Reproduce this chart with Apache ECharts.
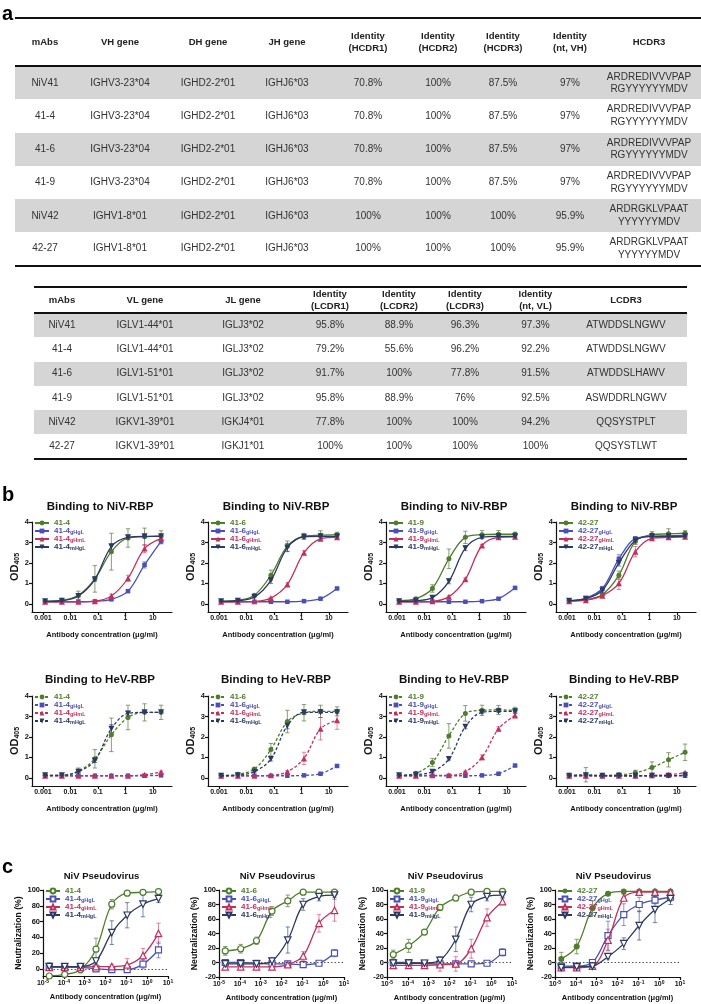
<!DOCTYPE html>
<html><head><meta charset="utf-8">
<script src="https://cdn.jsdelivr.net/npm/echarts@6/dist/echarts.min.js"></script>
<style>
html,body{margin:0;padding:0;background:#fff;}
#chart{position:absolute;left:0;top:0;width:701px;height:1004px;}
table{position:absolute;border-collapse:collapse;font-family:'Liberation Sans',Arial,sans-serif;font-size:10px;color:#333;table-layout:fixed;}
td,th{text-align:center;padding:0;line-height:1.25;white-space:pre-line;}
th{font-weight:bold;color:#222;font-size:9.5px;border-top:2.5px solid #111;border-bottom:2.5px solid #111;}
tr.g td{background:#d5d5d5;}
tr:last-child td{border-bottom:2.5px solid #111;}
#lab-a{position:absolute;left:2px;top:2px;font:bold 20px 'Liberation Sans',Arial,sans-serif;}
</style></head>
<body>
<div id="chart"></div>
<div id="lab-a">a</div>
<table id="t1"></table>
<table id="t2"></table>
<script>
// ---------------- table data ----------------
const t1Header = ['mAbs','VH gene','DH gene','JH gene','Identity\n(HCDR1)','Identity\n(HCDR2)','Identity\n(HCDR3)','Identity\n(nt, VH)','HCDR3'];
const t1Rows = [
  ['NiV41','IGHV3-23*04','IGHD2-2*01','IGHJ6*03','70.8%','100%','87.5%','97%','ARDREDIVVVPAP\nRGYYYYYYMDV'],
  ['41-4','IGHV3-23*04','IGHD2-2*01','IGHJ6*03','70.8%','100%','87.5%','97%','ARDREDIVVVPAP\nRGYYYYYYMDV'],
  ['41-6','IGHV3-23*04','IGHD2-2*01','IGHJ6*03','70.8%','100%','87.5%','97%','ARDREDIVVVPAP\nRGYYYYYYMDV'],
  ['41-9','IGHV3-23*04','IGHD2-2*01','IGHJ6*03','70.8%','100%','87.5%','97%','ARDREDIVVVPAP\nRGYYYYYYMDV'],
  ['NiV42','IGHV1-8*01','IGHD2-2*01','IGHJ6*03','100%','100%','100%','95.9%','ARDRGKLVPAAT\nYYYYYYMDV'],
  ['42-27','IGHV1-8*01','IGHD2-2*01','IGHJ6*03','100%','100%','100%','95.9%','ARDRGKLVPAAT\nYYYYYYMDV']
];
const t2Header = ['mAbs','VL gene','JL gene','Identity\n(LCDR1)','Identity\n(LCDR2)','Identity\n(LCDR3)','Identity\n(nt, VL)','LCDR3'];
const t2Rows = [
  ['NiV41','IGLV1-44*01','IGLJ3*02','95.8%','88.9%','96.3%','97.3%','ATWDDSLNGWV'],
  ['41-4','IGLV1-44*01','IGLJ3*02','79.2%','55.6%','96.2%','92.2%','ATWDDSLNGWV'],
  ['41-6','IGLV1-51*01','IGLJ3*02','91.7%','100%','77.8%','91.5%','ATWDDSLHAWV'],
  ['41-9','IGLV1-51*01','IGLJ3*02','95.8%','88.9%','76%','92.5%','ASWDDRLNGWV'],
  ['NiV42','IGKV1-39*01','IGKJ4*01','77.8%','100%','100%','94.2%','QQSYSTPLT'],
  ['42-27','IGKV1-39*01','IGKJ1*01','100%','100%','100%','100%','QQSYSTLWT']
];

// ---------------- chart data ----------------
const bConc = [0.0012, 0.0049, 0.0195, 0.078, 0.31, 1.25, 5, 20];      // µg/ml
const cConc = [0.00002, 0.00011, 0.00063, 0.0035, 0.02, 0.11, 0.63, 3.5];
const bTicks = [0.001, 0.01, 0.1, 1, 10];
const cTicks = [1e-5, 1e-4, 1e-3, 1e-2, 1e-1, 1, 10];
const odTicks = [0, 1, 2, 3, 4];
const neutTicksA = [0, 20, 40, 60, 80, 100];
const neutTicksB = [-20, 0, 20, 40, 60, 80, 100];
const mAbs = ['41-4', '41-6', '41-9', '42-27'];
const variants = ['', 'gHgL', 'gHmL', 'mHgL'];

// Binding to NiV-RBP (OD405), order: wt, gHgL, gHmL, mHgL
const niv41_4 = [[0.13,0.17,0.42,1.22,2.55,3.22,3.28,3.32],[0.1,0.1,0.1,0.12,0.22,0.62,1.9,3.05],[0.1,0.1,0.1,0.13,0.38,1.25,2.7,3.2],[0.12,0.15,0.38,1.2,2.8,3.25,3.3,3.3]];
const niv41_4_sd = [[0.03,0.04,0.2,0.65,0.9,0.45,0.42,0.25],[0,0,0,0,0.05,0.06,0.15,0.12],[0,0,0,0.03,0.1,0.15,0.2,0.1],[0,0,0.05,0.1,0.15,0.1,0.05,0.05]];
const niv41_6 = [[0.13,0.17,0.42,1.4,2.82,3.3,3.35,3.38],[0.1,0.1,0.1,0.1,0.1,0.13,0.25,0.75],[0.1,0.1,0.12,0.28,0.95,2.5,3.18,3.25],[0.12,0.15,0.33,1.15,2.75,3.28,3.3,3.3]];
const niv41_6_sd = [[0.02,0.03,0.05,0.25,0.25,0.15,0.22,0.12],[0,0,0,0,0,0,0.03,0.04],[0,0,0,0.03,0.08,0.1,0.05,0.05],[0,0,0.03,0.15,0.2,0.1,0.05,0.05]];
const niv41_9 = [[0.15,0.25,0.75,2.2,3.25,3.38,3.4,3.4],[0.1,0.1,0.1,0.1,0.1,0.13,0.25,0.78],[0.1,0.1,0.12,0.35,1.2,2.85,3.25,3.28],[0.12,0.15,0.3,1.1,2.72,3.25,3.3,3.3]];
const niv41_9_sd = [[0.02,0.05,0.18,0.48,0.3,0.2,0.18,0.1],[0,0,0,0,0,0,0.03,0.04],[0,0,0,0.05,0.06,0.05,0.05,0.05],[0,0,0.08,0.12,0.12,0.05,0.05,0.05]];
const niv42_27 = [[0.15,0.2,0.45,1.4,3.05,3.38,3.42,3.45],[0.15,0.28,0.75,2.2,3.2,3.3,3.32,3.35],[0.12,0.18,0.4,1.0,2.55,3.2,3.25,3.28],[0.15,0.25,0.65,2.0,3.1,3.3,3.3,3.3]];
const niv42_27_sd = [[0.02,0.03,0.05,0.2,0.15,0.15,0.25,0.12],[0,0.03,0.1,0.2,0.05,0.05,0.05,0.05],[0,0,0.05,0.3,0.25,0.05,0.05,0.05],[0,0.03,0.08,0.15,0.05,0.05,0.05,0.05]];

// Binding to HeV-RBP (OD405)
const hev41_4 = [[0.12,0.13,0.33,0.93,2.1,2.95,3.2,3.2],[0.1,0.1,0.1,0.1,0.1,0.1,0.1,0.12],[0.1,0.1,0.1,0.1,0.1,0.1,0.15,0.28],[0.12,0.12,0.3,0.85,2.4,3.15,3.2,3.2]];
const hev41_4_sd = [[0.02,0.03,0.15,0.45,0.82,0.6,0.42,0.35],[0,0,0,0,0,0,0,0],[0,0,0,0,0,0,0.03,0.05],[0,0,0.05,0.1,0.2,0.1,0.05,0.05]];
const hev41_6 = [[0.12,0.17,0.43,1.38,2.75,3.18,3.25,3.25],[0.1,0.1,0.1,0.1,0.1,0.12,0.2,0.58],[0.1,0.1,0.1,0.12,0.3,0.95,2.4,2.82],[0.1,0.13,0.3,0.92,2.55,3.2,3.2,3.2]];
const hev41_6_sd = [[0.02,0.03,0.05,0.3,0.55,0.4,0.3,0.22],[0,0,0,0,0,0,0.03,0.04],[0,0,0,0,0.05,0.3,0.55,0.45],[0,0,0.03,0.1,0.15,0.1,0.05,0.05]];
const hev41_9 = [[0.12,0.22,0.75,2.05,3.15,3.3,3.32,3.3],[0.1,0.1,0.1,0.1,0.1,0.12,0.2,0.6],[0.1,0.1,0.12,0.12,0.3,1.0,2.4,3.05],[0.12,0.15,0.3,0.92,2.5,3.2,3.25,3.25]];
const hev41_9_sd = [[0.02,0.04,0.2,0.6,0.38,0.25,0.22,0.15],[0,0,0,0,0,0,0.03,0.04],[0,0,0,0,0.03,0.12,0.1,0.08],[0,0,0.05,0.05,0.1,0.05,0.05,0.05]];
const hev42_27 = [[0.12,0.15,0.12,0.15,0.25,0.5,0.88,1.25],[0.1,0.1,0.1,0.1,0.1,0.1,0.1,0.1],[0.1,0.1,0.1,0.1,0.1,0.12,0.15,0.25],[0.1,0.12,0.1,0.1,0.1,0.1,0.1,0.12]];
const hev42_27_sd = [[0,0.35,0,0.08,0.12,0.28,0.35,0.4],[0,0,0,0,0,0,0,0],[0,0,0,0,0,0,0.03,0.05],[0,0,0,0,0,0,0,0]];

// NiV pseudovirus neutralization (%)
const psv41_4 = [[-9,-7,-1,25,82,96,97,98],[3,2,2,0,-1,-1,6,24],[2,2,2,3,3,5,17,45],[3,3,3,10,46,68,82,89]];
const psv41_4_sd = [[2,2,4,14,6,3,2,1],[5,4,3,2,2,2,6,10],[3,3,3,3,3,8,9,13],[2,2,3,4,15,16,16,5]];
const psv41_6 = [[16,19,30,71,85,97,97,97],[0,0,-1,-2,-2,-3,-1,13],[-6,-6,-6,-6,-3,9,54,72],[-2,-2,-2,2,31,80,91,93]];
const psv41_6_sd = [[6,6,5,6,8,3,1,1],[4,3,2,2,2,2,2,5],[2,2,2,2,2,6,12,15],[3,3,2,5,18,8,6,3]];
const psv41_9 = [[11,23,42,76,89,97,98,98],[0,0,-1,-2,-2,-2,-1,14],[-4,-4,-4,-3,-2,19,62,84],[-1,-1,-1,3,32,80,91,93]];
const psv41_9_sd = [[6,9,3,4,4,2,1,1],[3,4,2,2,2,2,2,5],[2,2,2,9,10,13,12,4],[3,3,3,5,17,10,6,3]];
const psv42_27 = [[5,22,75,95,98,98,98,98],[-5,-5,0,37,66,80,86,90],[-7,-7,-5,31,89,97,97,97],[-7,-6,-5,8,26,51,73,88]];
const psv42_27_sd = [[9,10,10,2,1,1,1,1],[3,3,2,20,15,10,5,5],[3,3,2,15,5,2,1,1],[3,3,2,3,8,20,18,8]];

// ---------------- tables ----------------
function buildTable(id, header, rows, widths, left, top, headH, rowH){
  const t = document.getElementById(id);
  t.style.left = left + 'px'; t.style.top = top + 'px';
  t.style.width = widths.reduce((a,b)=>a+b,0) + 'px';
  let h = '<colgroup>' + widths.map(w=>'<col style="width:'+w+'px">').join('') + '</colgroup>';
  h += '<tr style="height:'+headH+'px">' + header.map(c=>'<th>'+c+'</th>').join('') + '</tr>';
  rows.forEach((r,i)=>{ h += '<tr class="'+(i%2===0?'g':'')+'" style="height:'+rowH+'px">' + r.map(c=>'<td>'+c+'</td>').join('') + '</tr>'; });
  t.innerHTML = h;
}
buildTable('t1', t1Header, t1Rows, [60,90,86,72,90,50,80,54,104], 15, 17, 48, 33.3);
buildTable('t2', t2Header, t2Rows, [56,110,86,88,50,82,59,122], 34, 286, 26, 24.3);

// ---------------- charts ----------------
const FONT = "'Liberation Sans', Arial, sans-serif";
const COLORS = ['#4e7d2b', '#4a4eb8', '#c2305c', '#2b3a63'];
const ERRC = ['rgba(110,135,80,0.8)', 'rgba(74,78,184,0.6)', 'rgba(194,48,92,0.55)', 'rgba(43,58,99,0.6)'];
const SYMB = ['circle', 'rect', 'triangle', 'path://M0,0L10,0L5,9Z'];

const grids = [], xAxes = [], yAxes = [], series = [], legends = [], graphics = [];
const legRich = {};
COLORS.forEach((c,i)=>{
  legRich['m'+i] = {fontSize:8, fontWeight:'bold', color:c, fontFamily:FONT, lineHeight:8};
  legRich['s'+i] = {fontSize:5.5, fontWeight:'bold', color:c, fontFamily:FONT, lineHeight:3, verticalAlign:'bottom'};
});
function legFmt(name){
  const clean = name.replace(/\u200b/g,'');
  for (let i=1;i<4;i++){ if (clean.endsWith(variants[i])) return '{m'+i+'|'+clean.slice(0,-variants[i].length)+'}{s'+i+'|'+variants[i]+'}'; }
  return '{m0|'+clean+'}';
}
const axisCol = '#111';
function addChart(p){
  const k = grids.length;
  grids.push({left:p.left, top:p.top, width:p.width, height:p.height});
  xAxes.push({gridIndex:k, type:'log', logBase:10, min:p.xMin, max:p.xMax,
    axisLine:{show:true, onZero:false, lineStyle:{color:axisCol, width:1.2}},
    axisTick:{show:true, length:3, customValues:p.xTicks, lineStyle:{color:axisCol, width:1.2}},
    axisLabel:{customValues:p.xTicks, formatter:p.xFmt, fontSize:7, fontWeight:'bold', color:axisCol, fontFamily:FONT, margin:3,
      rich:{b:{fontSize:7, fontWeight:'bold', fontFamily:FONT, color:axisCol, lineHeight:9}, s:{fontSize:5, fontWeight:'bold', fontFamily:FONT, color:axisCol, lineHeight:5, verticalAlign:'top'}}},
    splitLine:{show:false}, minorTick:{show:false},
    name:'Antibody concentration (μg/ml)', nameLocation:'middle', nameGap:p.xNameGap,
    nameTextStyle:{fontSize:7.5, fontWeight:'bold', color:axisCol, fontFamily:FONT}});
  yAxes.push({gridIndex:k, type:'value', min:p.yMin, max:p.yMax,
    axisLine:{show:true, onZero:false, lineStyle:{color:axisCol, width:1.2}},
    axisTick:{show:true, length:3, customValues:p.yTicks, lineStyle:{color:axisCol, width:1.2}},
    axisLabel:{customValues:p.yTicks, fontSize:7.5, fontWeight:'bold', color:axisCol, fontFamily:FONT, margin:3},
    splitLine:{show:false},
    name:p.yName, nameLocation:'middle', nameGap:p.yNameGap, nameRotate:90,
    nameTextStyle:p.yNameStyle});
  const names = [];
  for (let i=0;i<4;i++){
    const name = p.mAb + variants[i] + p.suffix;
    names.push(name);
    const s = {type:'line', name, xAxisIndex:k, yAxisIndex:k,
      data: p.conc.map((x,j)=>[x, p.vals[i][j]]),
      smooth:0.35, symbol:SYMB[i], symbolSize:p.symSize[i], showSymbol:true,
      lineStyle:{color:COLORS[i], width:1.3, type:p.dashed?[3,2]:'solid'},
      itemStyle: (p.open && i>0 || p.open && !p.firstFilled) ? {color:'#fff', borderColor:COLORS[i], borderWidth:1.2} : {color:COLORS[i]},
      emphasis:{disabled:true}, z:3+i, animation:false};
    if (p.zeroLine && i===0){
      s.markLine = {silent:true, symbol:['none','none'], label:{show:false}, animation:false,
        lineStyle:{type:[1.5,2], color:'#555', width:1}, data:[{yAxis:0}]};
    }
    series.push(s);
    series.push({type:'custom', xAxisIndex:k, yAxisIndex:k, z:2, animation:false, silent:true,
      encode:{x:0, y:[1,2]},
      data: p.conc.map((x,j)=>[x, p.vals[i][j]-p.sd[i][j], p.vals[i][j]+p.sd[i][j]]).filter(d=>d[2]-d[1]>1e-9),
      renderItem:(params, api)=>{
        const lo = api.coord([api.value(0), api.value(1)]);
        const hi = api.coord([api.value(0), api.value(2)]);
        const w = 2.2;
        const st = {stroke:ERRC[i], lineWidth:1};
        return {type:'group', children:[
          {type:'line', shape:{x1:lo[0], y1:lo[1], x2:hi[0], y2:hi[1]}, style:st},
          {type:'line', shape:{x1:lo[0]-w, y1:lo[1], x2:lo[0]+w, y2:lo[1]}, style:st},
          {type:'line', shape:{x1:hi[0]-w, y1:hi[1], x2:hi[0]+w, y2:hi[1]}, style:st}
        ]};
      }});
  }
  legends.push({left:p.left+2, top:p.top+p.legTop, orient:'vertical', itemWidth:14, itemHeight:6, itemGap:0, padding:0,
    selectedMode:false, data:names, formatter:legFmt, textStyle:{rich:legRich}});
  graphics.push({type:'text', x:p.left+p.width/2+p.titleDx, y:p.titleY,
    style:{text:p.title, font:'bold '+p.titleSize+'px '+FONT, fill:'#111', textAlign:'center', textVerticalAlign:'middle'}});
}

const odName = '{a|OD}{b|405}';
const odStyle = {rich:{a:{fontSize:11, fontWeight:'bold', fontFamily:FONT, color:axisCol, lineHeight:12}, b:{fontSize:7, fontWeight:'bold', fontFamily:FONT, color:axisCol, lineHeight:4, verticalAlign:'bottom'}}};
const neutStyle = {fontSize:8.7, fontWeight:'bold', fontFamily:FONT, color:axisCol};
const bLefts = [32, 208, 386, 556];
const cLefts = [43, 219, 387, 555];
const nivSets = [[niv41_4, niv41_4_sd], [niv41_6, niv41_6_sd], [niv41_9, niv41_9_sd], [niv42_27, niv42_27_sd]];
const hevSets = [[hev41_4, hev41_4_sd], [hev41_6, hev41_6_sd], [hev41_9, hev41_9_sd], [hev42_27, hev42_27_sd]];
const psvSets = [[psv41_4, psv41_4_sd], [psv41_6, psv41_6_sd], [psv41_9, psv41_9_sd], [psv42_27, psv42_27_sd]];

for (let c=0;c<4;c++){
  const common = {left:bLefts[c], width:140, height:90, xMin:0.0004, xMax:50, xTicks:bTicks, xFmt:v=>String(v),
    yMin:-0.4, yMax:4, yTicks:odTicks, yName:odName, yNameGap:9, yNameStyle:odStyle, xNameGap:19,
    mAb:mAbs[c], conc:bConc, symSize:[5,4.5,6,6], legTop:-3, titleDx:-2, titleSize:11.5};
  addChart(Object.assign({}, common, {top:522, vals:nivSets[c][0], sd:nivSets[c][1], dashed:false, suffix:'', title:'Binding to NiV-RBP', titleY:507}));
  addChart(Object.assign({}, common, {top:696, vals:hevSets[c][0], sd:hevSets[c][1], dashed:true, suffix:'\u200b', title:'Binding to HeV-RBP', titleY:680}));
}
for (let c=0;c<4;c++){
  addChart({left:cLefts[c], width:125, top:890, height:c===0?86:87, xMin:1e-5, xMax:10, xTicks:cTicks,
    xFmt:v=>'{b|10}{s|'+Math.round(Math.log10(v))+'}',
    yMin:c===0?-9:-20, yMax:100, yTicks:c===0?neutTicksA:neutTicksB, yName:'Neutralization (%)', yNameGap:17, yNameStyle:neutStyle, xNameGap:17,
    mAb:mAbs[c], conc:cConc, vals:psvSets[c][0], sd:psvSets[c][1], dashed:false, open:true, firstFilled:c===3, zeroLine:true,
    suffix:'\u200b\u200b', symSize:[6,6,6.5,6.5], legTop:-3, title:'NiV Pseudovirus', titleY:876, titleDx:-4, titleSize:9.5});
}
graphics.push({type:'text', x:2, y:495, style:{text:'b', font:'bold 20px '+FONT, fill:'#000', textVerticalAlign:'middle'}});
graphics.push({type:'text', x:2, y:867, style:{text:'c', font:'bold 20px '+FONT, fill:'#000', textVerticalAlign:'middle'}});

const chart = echarts.init(document.getElementById('chart'));
chart.setOption({animation:false, backgroundColor:'#fff', grid:grids, xAxis:xAxes, yAxis:yAxes, legend:legends, series, graphic:graphics});
</script>
</body></html>
